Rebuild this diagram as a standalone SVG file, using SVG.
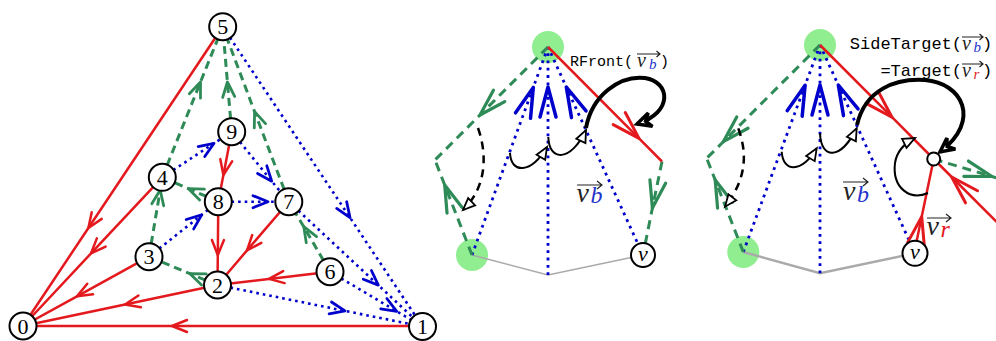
<svg xmlns="http://www.w3.org/2000/svg" width="996" height="341" viewBox="0 0 996 341">
<style>
.red{stroke:#e3191e;stroke-width:2.5;fill:none}
.grn{stroke:#2e8b57;stroke-width:3;fill:none;stroke-dasharray:8 5}
.blu{stroke:#0000cc;stroke-width:2.6;fill:none;stroke-dasharray:2.6 4}
.grnL{stroke:#2e8b57;stroke-width:3;fill:none;stroke-dasharray:9 6}
.bluL{stroke:#0000cc;stroke-width:2.8;fill:none;stroke-dasharray:2.8 4.5}
.gray{stroke:#aaaaaa;fill:none}
.blk{stroke:#000;stroke-width:2;fill:none}
.thick{stroke:#000;stroke-width:4;fill:none}
.dsh{stroke:#000;stroke-width:2.5;fill:none;stroke-dasharray:8 6}
.nd circle{fill:#fff;stroke:#000;stroke-width:2}
.num{font-family:"Liberation Serif",serif;font-size:22px;text-anchor:middle}
.mi{font-family:"Liberation Serif",serif;font-style:italic}
.mono{font-family:"Liberation Mono",monospace}
.acc{stroke:#222;stroke-width:1.2;fill:none}
.gc{fill:#90ee90}
</style>
<defs>
<marker id="rs" markerUnits="userSpaceOnUse" orient="auto" style="overflow:visible"><path d="M-15,-6 L0,0 L-15,6" fill="none" stroke="#e3191e" stroke-width="2.5" stroke-linecap="round" stroke-linejoin="round"/></marker>
<marker id="gs" markerUnits="userSpaceOnUse" orient="auto" style="overflow:visible"><path d="M-15,-6 L0,0 L-15,6" fill="none" stroke="#2e8b57" stroke-width="2.8" stroke-linecap="round" stroke-linejoin="round"/></marker>
<marker id="bs" markerUnits="userSpaceOnUse" orient="auto" style="overflow:visible"><path d="M-15,-6 L0,0 L-15,6" fill="none" stroke="#0000cc" stroke-width="2.8" stroke-linecap="round" stroke-linejoin="round"/></marker>
<marker id="rl" markerUnits="userSpaceOnUse" orient="auto" style="overflow:visible"><path d="M-28,-8.5 L0,0 L-28,8.5" fill="none" stroke="#e3191e" stroke-width="3" stroke-linecap="round" stroke-linejoin="round"/></marker>
<marker id="gl" markerUnits="userSpaceOnUse" orient="auto" style="overflow:visible"><path d="M-27,-8 L0,0 L-27,8" fill="none" stroke="#2e8b57" stroke-width="3.2" stroke-linecap="round" stroke-linejoin="round"/></marker>
<marker id="bl" markerUnits="userSpaceOnUse" orient="auto" style="overflow:visible"><path d="M-30,-8 L0,0 L-30,8" fill="none" stroke="#0000cc" stroke-width="3.5" stroke-linecap="round" stroke-linejoin="round"/></marker>
<marker id="ot" markerUnits="userSpaceOnUse" orient="auto" style="overflow:visible"><path d="M-12,-5 L0,0 L-12,5 Z" fill="#fff" stroke="#000" stroke-width="1.8" stroke-linejoin="miter"/></marker>
<marker id="bk" markerUnits="userSpaceOnUse" orient="auto" style="overflow:visible"><path d="M-14,-7 L0,0 L-14,7 L-9,0 Z" fill="#fff" stroke="#000" stroke-width="3.5" stroke-linejoin="miter"/></marker>
</defs>

<g id="base-nodes">
<g id="m-top"><circle class="gc" cx="548" cy="47" r="16"/></g>
<g id="m-bl"><circle class="gc" cx="472" cy="255" r="16"/></g>
<g id="r-top"><circle class="gc" cx="820" cy="45" r="16"/></g>
<g id="r-bl"><circle class="gc" cx="743.3" cy="252" r="16"/></g>
</g>

<g id="connectors">
<path class="red" marker-mid="url(#rs)" d="M222.7,26.7 L88.4,228 L23,326"/>
<path class="red" marker-mid="url(#rs)" d="M162.3,177.3 L91,253.4 L23,326"/>
<path class="red" marker-mid="url(#rs)" d="M149,256.7 L77,296.3 L23,326"/>
<path class="red" marker-mid="url(#rs)" d="M217.5,285 L125,304.5 L23,326"/>
<path class="red" marker-mid="url(#rs)" d="M422.5,326 L172,326 L23,326"/>
<path class="red" marker-mid="url(#rs)" d="M231.7,131.7 L223.4,175 L218.3,201.7"/>
<path class="red" marker-mid="url(#rs)" d="M218.3,201.7 L217.8,255 L217.5,285"/>
<path class="red" marker-mid="url(#rs)" d="M288.8,201.7 L247,250.4 L217.5,285"/>
<path class="red" marker-mid="url(#rs)" d="M330,271.7 L269,278.9 L217.5,285"/>
<path class="grn" marker-mid="url(#gs)" d="M162.3,177.3 L200.5,82 L222.7,26.7"/>
<path class="grn" marker-mid="url(#gs)" d="M231.7,131.7 L227.4,82 L222.7,26.7"/>
<path class="grn" marker-mid="url(#gs)" d="M288.8,201.7 L254.6,111.7 L222.7,26.7"/>
<path class="grn" marker-mid="url(#gs)" d="M149,256.7 L160.2,190 L162.3,177.3"/>
<path class="grn" marker-mid="url(#gs)" d="M218.3,201.7 L188.3,188.6 L162.3,177.3"/>
<path class="grn" marker-mid="url(#gs)" d="M217.5,285 L190,273.7 L149,256.7"/>
<path class="grn" marker-mid="url(#gs)" d="M330,271.7 L303.8,226.7 L288.8,201.7"/>
<path class="blu" marker-mid="url(#bs)" d="M162.3,177.3 L214,143.3 L231.7,131.7"/>
<path class="blu" marker-mid="url(#bs)" d="M149,256.7 L201.7,214.9 L218.3,201.7"/>
<path class="blu" marker-mid="url(#bs)" d="M218.3,201.7 L268,201.7 L288.8,201.7"/>
<path class="blu" marker-mid="url(#bs)" d="M231.7,131.7 L271.7,181.2 L288.8,201.7"/>
<path class="blu" marker-mid="url(#bs)" d="M222.7,26.7 L350,217.6 L422.5,326.5"/>
<path class="blu" marker-mid="url(#bs)" d="M288.8,201.7 L378.3,285.1 L422.5,326.5"/>
<path class="blu" marker-mid="url(#bs)" d="M330,271.7 L396.7,311.3 L422.5,326.5"/>
<path class="blu" marker-mid="url(#bs)" d="M217.5,285 L345,310.9 L422.5,326.5"/>

<path class="gray" stroke-width="1.6" d="M472,255 L548,275 L643,255"/>
<path class="bluL" marker-mid="url(#bl)" d="M472,255 L533.3,87.4 L548,47"/>
<path class="bluL" marker-mid="url(#bl)" d="M548,275 L548,87 L548,47"/>
<path class="bluL" marker-mid="url(#bl)" d="M643,255 L566.3,87 L548,47"/>
<path class="grnL" marker-mid="url(#gl)" d="M548,47 L480,115 L435,160"/>
<path class="grnL" marker-mid="url(#gl)" d="M472,255 L444.7,185 L435,160"/>
<path class="grnL" marker-mid="url(#gl)" d="M662,161.5 L652.4,208 L643,255"/>
<path class="red" marker-mid="url(#rl)" d="M548,47 L639,138.4 L662,161.5"/>
<path class="thick" marker-end="url(#bk)" d="M586,128 C592,95 620,75 645,78 C670,82 674,112 637,124"/>
<path class="blk" marker-end="url(#ot)" d="M510,153 C511,174 531,174 547,147"/>
<path class="blk" marker-end="url(#ot)" d="M548.3,137 C549,162 571,162 586,130"/>
<path class="dsh" marker-end="url(#ot)" d="M478,128 C486,150 489,185 463,210"/>

<path class="gray" stroke-width="2.5" d="M743.3,252 L820,273.3 L915,253.3"/>
<path class="bluL" marker-mid="url(#bl)" d="M743.3,252 L805.1,85.3 L820,45"/>
<path class="bluL" marker-mid="url(#bl)" d="M820,273.3 L820,85 L820,45"/>
<path class="bluL" marker-mid="url(#bl)" d="M915,253.3 L838.3,85 L820,45"/>
<path class="grnL" marker-mid="url(#gl)" d="M820,45 L723.3,141.7 L706.7,158.3"/>
<path class="grnL" marker-mid="url(#gl)" d="M743.3,252 L715.2,180 L706.7,158.3"/>
<path class="grnL" marker-mid="url(#gl)" d="M933.7,159 L992,176.5 L1030,188"/>
<path class="red" marker-mid="url(#rl)" d="M820,45 L892,117.2 L933.7,159"/>
<path class="red" marker-mid="url(#rl)" d="M1010,235.3 L951.7,177 L933.7,159"/>
<path class="red" marker-mid="url(#rl)" d="M914.1,253.3 L921.7,216.7 L933.7,159"/>
<path class="thick" marker-end="url(#bk)" d="M857,125 C865,90 895,78 925,80 C962,83 982,120 940,152"/>
<path class="blk" marker-end="url(#ot)" d="M928,193 C910,201 892,188 895,163 C897,150 905,143 915,138"/>
<path class="blk" marker-end="url(#ot)" d="M781.7,151.7 C783,172 801,174 816.7,148.3"/>
<path class="blk" marker-end="url(#ot)" d="M820,133.3 C821,160 841,160 856.7,128.3"/>
<path class="dsh" marker-end="url(#ot)" d="M738.3,128.3 C746,150 749,176 725,206.7"/>
</g>

<g id="n0" class="nd"><circle cx="23" cy="326" r="13.5"/><text class="num" x="23" y="333.5">0</text></g>
<g id="n1" class="nd"><circle cx="422.5" cy="326.5" r="13.5"/><text class="num" x="422.5" y="334">1</text></g>
<g id="n2" class="nd"><circle cx="217.5" cy="285" r="13.5"/><text class="num" x="217.5" y="292.5">2</text></g>
<g id="n3" class="nd"><circle cx="149" cy="256.7" r="13.5"/><text class="num" x="149" y="264.2">3</text></g>
<g id="n4" class="nd"><circle cx="162.3" cy="177.3" r="13.5"/><text class="num" x="162.3" y="184.8">4</text></g>
<g id="n5" class="nd"><circle cx="222.7" cy="26.7" r="13.5"/><text class="num" x="222.7" y="34.2">5</text></g>
<g id="n6" class="nd"><circle cx="330" cy="271.7" r="13.5"/><text class="num" x="330" y="279.2">6</text></g>
<g id="n7" class="nd"><circle cx="288.8" cy="201.7" r="13.5"/><text class="num" x="288.8" y="209.2">7</text></g>
<g id="n8" class="nd"><circle cx="218.3" cy="201.7" r="13.5"/><text class="num" x="218.3" y="209.2">8</text></g>
<g id="n9" class="nd"><circle cx="231.7" cy="131.7" r="13.5"/><text class="num" x="231.7" y="139.2">9</text></g>

<g id="m-v" class="nd"><circle cx="643" cy="255" r="12"/><text class="mi" font-size="22" text-anchor="middle" x="643" y="261">v</text></g>
<g id="r-v" class="nd"><circle cx="915" cy="253.3" r="12.5"/><text class="mi" font-size="22" text-anchor="middle" x="915" y="259.3">v</text></g>
<g id="r-s" class="nd"><circle cx="933.7" cy="159" r="6.5"/></g>

<g id="labels">
<text class="mono" font-size="15" x="570" y="65.5">RFront(</text>
<text class="mi" font-size="20" x="637" y="67" fill="#222">v</text>
<text class="mi" font-size="15" x="649" y="68.5" fill="#2233cc">b</text>
<text class="mono" font-size="15" x="660" y="65.5">)</text>
<path class="acc" d="M637,54 L660,54 M656.5,51 L660,54 L656.5,57"/>

<text class="mi" font-size="28" x="576.5" y="201.5" fill="#222">v</text>
<text class="mi" font-size="24" x="590.5" y="203" fill="#2233cc">b</text>
<path class="acc" stroke-width="1.4" d="M577,185 L602,185 M597,181 L602,185 L597,189"/>

<text class="mono" font-size="17" text-anchor="end" x="962" y="48.5">SideTarget(</text>
<text class="mi" font-size="20" x="962" y="50" fill="#222">v</text>
<text class="mi" font-size="15" x="973.5" y="51.5" fill="#2233cc">b</text>
<text class="mono" font-size="17" x="982" y="48.5">)</text>
<path class="acc" d="M962,37 L983,37 M979.5,34 L983,37 L979.5,40"/>
<text class="mono" font-size="17" text-anchor="end" x="962" y="75.5">=Target(</text>
<text class="mi" font-size="20" x="962" y="77" fill="#222">v</text>
<text class="mi" font-size="15" x="973.5" y="78.5" fill="#e3191e">r</text>
<text class="mono" font-size="17" x="982" y="75.5">)</text>
<path class="acc" d="M962,64 L983,64 M979.5,61 L983,64 L979.5,67"/>

<text class="mi" font-size="28" x="843" y="200" fill="#222">v</text>
<text class="mi" font-size="24" x="857" y="201.5" fill="#2233cc">b</text>
<path class="acc" stroke-width="1.4" d="M843,182 L868,182 M863,178 L868,182 L863,186"/>

<text class="mi" font-size="28" x="926.5" y="235" fill="#222">v</text>
<text class="mi" font-size="24" x="940.5" y="236.5" fill="#e3191e">r</text>
<path class="acc" stroke-width="1.4" d="M927,218 L951,218 M946,214 L951,218 L946,222"/>
</g>
</svg>
